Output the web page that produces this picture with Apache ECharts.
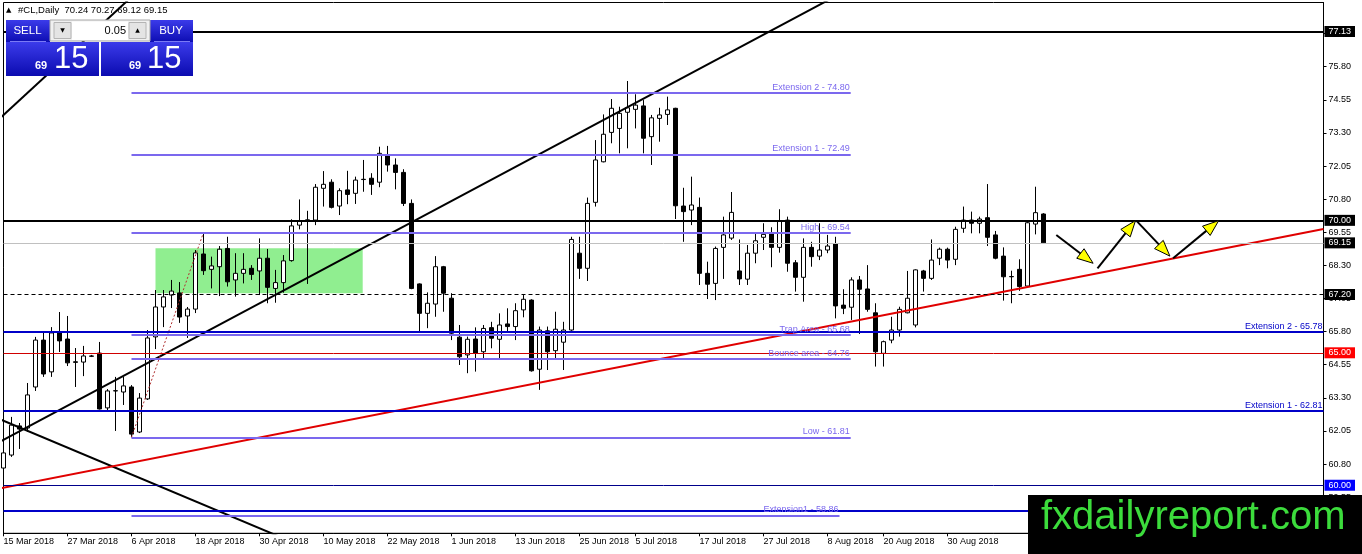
<!DOCTYPE html>
<html><head><meta charset="utf-8">
<script src="https://cdn.jsdelivr.net/npm/echarts@6/dist/echarts.min.js"></script>
<style>html,body{margin:0;padding:0;background:#fff}#c{width:1362px;height:554px}</style>
</head><body><div id="c"></div>
<script>
// ---- candle data (daily bars from 15 Mar 2018) ----
const opens = [60.65,61.14,62.24,62.16,63.71,65.48,64.28,65.75,65.52,64.66,64.65,64.88,64.99,62.92,63.56,63.52,63.71,62.01,63.26,65.60,66.73,67.18,67.26,66.39,66.65,68.73,68.15,68.25,68.94,67.75,68.00,68.19,68.09,68.57,67.43,67.65,68.48,69.82,70.00,70.01,71.21,71.44,70.54,71.15,71.02,71.55,71.59,71.44,72.47,72.09,71.81,70.64,67.60,66.49,66.84,68.25,67.06,65.59,64.92,65.52,65.04,65.95,65.51,66.09,65.99,66.62,66.99,64.38,65.83,65.08,65.40,65.86,68.76,68.19,70.68,72.21,73.32,73.47,74.08,74.19,74.32,73.16,73.85,74.00,74.23,70.54,70.39,70.49,68.00,67.62,68.98,69.33,68.09,67.78,68.76,69.36,69.49,68.98,70.01,68.40,67.85,68.98,68.65,68.88,69.11,66.80,66.72,67.75,67.41,66.51,64.98,65.48,65.86,66.51,66.05,68.09,67.81,68.57,68.91,68.53,69.70,70.01,69.89,70.10,69.45,68.65,67.88,68.15,67.52,69.86,70.24];
const highs = [61.44,62.58,62.35,63.86,65.60,65.75,65.97,66.54,66.39,65.18,65.26,64.92,65.41,63.63,64.09,64.09,63.78,63.48,65.86,67.37,67.37,67.75,67.67,66.73,68.88,69.54,68.63,69.03,69.38,68.76,68.76,68.31,69.32,68.92,68.13,68.69,70.04,70.79,70.36,71.37,71.86,71.55,71.21,71.87,71.65,72.28,71.78,72.78,72.81,72.34,71.93,70.79,67.62,67.28,68.65,68.28,67.25,66.05,65.61,65.96,66.05,66.17,66.49,66.68,66.87,67.18,67.02,65.99,65.99,66.55,66.17,69.38,69.38,70.86,73.03,74.00,74.58,74.29,75.26,74.76,74.54,73.98,74.25,74.67,74.25,71.23,71.65,70.86,68.44,69.01,70.14,71.07,69.28,69.07,69.53,69.89,69.74,70.42,70.14,68.50,69.32,69.19,69.89,69.45,69.38,67.40,67.85,67.90,68.31,66.87,65.46,66.36,66.74,68.09,68.15,68.13,69.28,68.97,68.97,69.76,70.52,70.33,70.14,71.37,69.60,68.98,68.10,68.53,70.01,71.27,70.27];
const lows = [60.42,61.07,61.37,62.01,63.56,64.09,64.09,65.03,64.50,63.71,64.12,64.84,62.86,62.84,62.05,63.03,61.81,61.97,63.22,65.14,65.97,66.69,66.13,65.56,66.50,67.94,67.43,67.14,67.50,67.12,67.62,67.75,67.18,66.87,66.89,67.27,68.44,69.66,67.60,69.82,70.52,70.45,70.20,70.61,70.62,71.08,70.96,71.25,71.84,71.17,70.54,67.40,65.80,65.93,66.36,66.55,65.48,64.54,64.23,64.29,64.79,65.17,64.79,65.80,65.48,66.34,64.29,63.60,64.35,64.73,64.35,65.83,67.79,67.71,70.52,72.19,72.91,72.53,72.72,73.47,72.53,72.09,72.97,73.60,70.05,69.19,69.82,67.56,67.03,66.99,67.79,69.26,67.56,67.56,68.38,68.88,68.23,68.78,68.06,67.31,66.93,68.25,68.50,68.76,66.30,66.46,66.24,65.71,66.55,64.48,64.48,65.36,65.61,66.49,65.96,67.31,67.75,68.31,68.19,68.31,69.53,69.51,69.51,69.03,68.53,66.97,66.87,67.34,67.50,69.47,69.12];
const closes = [61.22,62.27,62.12,63.41,65.48,64.20,65.75,65.45,64.62,64.64,64.88,64.87,62.88,63.56,63.57,63.75,61.93,63.29,65.56,66.73,67.11,67.33,66.35,66.65,68.77,68.10,68.28,68.91,67.68,68.00,68.15,67.96,68.57,67.47,67.65,68.47,69.79,69.99,70.02,71.25,71.36,70.49,71.12,70.98,71.52,71.54,71.36,72.53,72.09,71.81,70.64,67.43,66.49,66.87,68.25,67.25,65.74,64.85,65.51,64.98,65.92,65.55,66.05,65.99,66.59,67.02,64.32,65.86,65.04,65.89,65.86,69.28,68.19,70.64,72.28,73.25,74.23,74.04,74.25,74.35,73.10,73.87,73.98,74.17,70.55,70.33,70.58,68.00,67.59,68.94,69.45,70.30,67.79,68.76,69.23,69.47,68.98,69.99,68.38,67.85,68.98,68.63,68.88,69.03,66.77,66.68,67.75,67.40,66.64,65.04,65.42,65.86,66.64,67.06,68.13,67.81,68.50,68.91,68.50,69.66,70.01,69.89,70.05,69.36,68.57,67.87,67.87,67.50,69.91,70.29,69.15];
const emptySlots = 35;

// ---- axis labels ----
const dateTickIndex = [0,8,16,24,32,40,48,56,64,72,79,87,95,103,110,118];
const dateTickText = ['15 Mar 2018','27 Mar 2018','6 Apr 2018','18 Apr 2018','30 Apr 2018','10 May 2018','22 May 2018','1 Jun 2018','13 Jun 2018','25 Jun 2018','5 Jul 2018','17 Jul 2018','27 Jul 2018','8 Aug 2018','20 Aug 2018','30 Aug 2018'];
const priceTicks = [58.30,59.55,60.80,62.05,63.30,64.55,65.80,67.05,68.30,69.55,70.80,72.05,73.30,74.55,75.80,77.05];
const priceMin = 58.186, priceMax = 78.224;

// ---- horizontal levels (full width, boxed price on axis) ----
const boxLevels = [77.13, 70.00, 69.15, 67.20, 65.00, 60.00];
const boxBg = ['#000', '#000', '#000', '#000', '#ff0000', '#0000ff'];
const boxLineColor = ['#000', '#000', '#c0c0c0', '#000', '#d00000', '#00008b'];
const boxLineWidth = [2, 2, 1, 1, 1, 1];
const boxLineType = ['solid', 'solid', 'solid', [4,3], 'solid', 'solid'];
// ---- full width blue extension lines ----
const extValues = [65.78, 62.81, 59.04];
const extTexts = ['Extension 2 - 65.78', 'Extension 1 - 62.81', ''];
// ---- fibonacci segment levels ----
const fibValues = [74.80, 72.49, 69.54, 65.68, 64.76, 61.81, 58.86];
const fibTexts = ['Extension 2 - 74.80','Extension 1 - 72.49','High - 69.54','Trap Area - 65.68','Bounce area - 64.76','Low - 61.81','Extension1 - 58.86'];
const fibStart = 16;
const fibEnd = [105.9,105.9,105.9,105.9,105.9,105.9,104.5];

// ---- trend lines (bar index, price) ----
const supportUp = [[-1, 61.55], [105, 78.62]];
const steepUp = [[-1, 73.70], [18, 78.99]];
const fallingLine = [[-1, 62.56], [36, 57.87]];
const redTrend = [[-1, 59.85], [165, 69.67]];
const fibSwing = [[16, 61.81], [25, 69.54]];
const greenZone = [[19, 68.945], [44.9, 67.246]];
const arrows = [[131.6,69.45,136.2,68.38],[136.75,68.19,141.5,69.99],[141.6,69.99,145.8,68.65],[146.2,68.57,151.9,69.99]];

const nCat = opens.length + emptySlots;
const cats = Array.from({length: nCat}, (_, i) => String(i));
const candleData = opens.map((o, i) => [o, closes[i], lows[i], highs[i]]);

const FONT = 'Liberation Sans';

const boxLines = boxLevels.map((v, i) => ({
  yAxis: v,
  lineStyle: {color: boxLineColor[i], width: boxLineWidth[i], type: boxLineType[i]},
  label: {show:true, position:'end', distance:1, formatter: v.toFixed(2), color:'#fff', backgroundColor:boxBg[i], padding:[1,4,0,4], fontSize:9, lineHeight:10, fontFamily:FONT}
}));
const extLines = extValues.map((v, i) => ({yAxis: v, lineStyle:{color:'#0000c8', width:2, type:'solid'},
  label:{show: !!extTexts[i], position:'insideEndTop', distance:1, formatter: extTexts[i], color:'#0000c8', fontSize:9, fontFamily:FONT}}));
const fibLines = fibValues.map((v, i) => [
  {coord:[fibStart, v], lineStyle:{color:'#7b68ee', width:2, type:'solid'},
   label:{show:true, position:'insideEndTop', distance:1, formatter: fibTexts[i], color:'#7b68ee', fontSize:9, fontFamily:FONT}},
  {coord:[fibEnd[i], v]}
]);

function trend(data, color, width, type, z) {
  return {type:'line', xAxisIndex:1, yAxisIndex:0, data, symbol:'none', silent:true, z: z || 4,
    lineStyle:{color, width, type: type || 'solid'}, clip:true};
}

const blueGrad = {type:'linear', x:0, y:0, x2:0, y2:1, colorStops:[{offset:0, color:'#3b3bea'},{offset:1, color:'#0b0bb0'}]};
const G = [];
function rect(x, y, w, h, fill, stroke, z) { G.push({type:'rect', shape:{x, y, width:w, height:h}, style:{fill, stroke: stroke || null, lineWidth:1}, z: z || 100}); }
function txt(x, y, text, size, fill, opts) {
  G.push({type:'text', x, y, z:101, style:Object.assign({text, fontSize:size, fill, fontFamily:FONT, align:'left', verticalAlign:'middle', textAlign:'left', textVerticalAlign:'middle'}, opts || {})});
}
// header
G.push({type:'text', x:6, y:10, z:1, style:{text:'▲', fontSize:7, fill:'#000', fontFamily:'DejaVu Sans', verticalAlign:'middle', textVerticalAlign:'middle'}});
G.push({type:'text', x:18, y:10.5, z:1, style:{text:'#CL,Daily  70.24 70.27 69.12 69.15', fontSize:9.5, fill:'#000', fontFamily:FONT, verticalAlign:'middle', textVerticalAlign:'middle'}});
// trade panel
rect(6, 20, 44, 23, blueGrad);
rect(150, 20, 43, 23, blueGrad);
rect(6, 42, 93, 34, blueGrad);
rect(101, 42, 92, 34, blueGrad);
G.push({type:'line', shape:{x1:10, y1:41.5, x2:46, y2:41.5}, style:{stroke:'#7a7af5', lineWidth:1}, z:101});
G.push({type:'line', shape:{x1:154, y1:41.5, x2:190, y2:41.5}, style:{stroke:'#7a7af5', lineWidth:1}, z:101});
rect(50, 20, 100, 21, '#f0f0f0', '#a8a8a8');
rect(54, 22.5, 17, 16, '#e4e4e4', '#b4b4b4', 101);
rect(72, 21.5, 56, 18.5, '#ffffff', null, 101);
rect(129, 22.5, 17, 16, '#e4e4e4', '#b4b4b4', 101);
txt(62.5, 30.5, '▼', 6, '#000', {align:'center', textAlign:'center', fontFamily:'DejaVu Sans'});
txt(137.5, 30.5, '▲', 6, '#000', {align:'center', textAlign:'center', fontFamily:'DejaVu Sans'});
txt(126, 31, '0.05', 11, '#000', {align:'right', textAlign:'right'});
txt(27.5, 31, 'SELL', 11.5, '#fff', {align:'center', textAlign:'center'});
txt(171, 31, 'BUY', 11.5, '#fff', {align:'center', textAlign:'center'});
txt(35, 66, '69', 11, '#fff', {fontWeight:'bold'});
txt(54, 59, '15', 31, '#fff');
txt(129, 66, '69', 11, '#fff', {fontWeight:'bold'});
txt(147, 59, '15', 31, '#fff');
// watermark
rect(1028, 495, 334, 59, '#000', null, 110);
G.push({type:'text', x:1041, y:518, z:111, style:{text:'fxdailyreport.com', fontSize:40, fill:'#3cdc3c', fontFamily:FONT, verticalAlign:'middle', textVerticalAlign:'middle'}});

const option = {
  animation: false,
  backgroundColor: '#fff',
  textStyle: {fontFamily: FONT},
  grid: {left:3.5, right:38.5, top:2.5, bottom:20.7, show:true, borderColor:'#000', borderWidth:1, backgroundColor:'transparent'},
  xAxis: [
    {type:'category', data:cats, boundaryGap:false,
     axisLine:{show:true, onZero:false, lineStyle:{color:'#000', width:1}},
     axisTick:{show:true, length:3, interval:(i) => dateTickIndex.includes(i), lineStyle:{color:'#000'}},
     axisLabel:{show:true, interval:(i) => dateTickIndex.includes(i), formatter:(v) => { const j = dateTickIndex.indexOf(Number(v)); return j >= 0 ? dateTickText[j] : ''; },
       align:'left', fontSize:9, color:'#000', margin:4, fontFamily:FONT},
     splitLine:{show:false}},
    {type:'value', min:0, max:nCat - 1, show:false, axisLine:{onZero:false}, splitLine:{show:false}}
  ],
  yAxis: {type:'value', position:'right', min:priceMin, max:priceMax,
    axisLine:{show:true, onZero:false, lineStyle:{color:'#000', width:1}},
    axisTick:{show:true, length:3, lineStyle:{color:'#000'}, customValues: priceTicks},
    axisLabel:{show:true, customValues: priceTicks, formatter:(v) => Number(v).toFixed(2), fontSize:9, color:'#000', margin:5, fontFamily:FONT},
    splitLine:{show:false}},
  series: [
    {type:'line', xAxisIndex:1, data:[], z:1, silent:true,
     markArea:{silent:true, itemStyle:{color:'#90ee90', opacity:1}, data:[[{coord:greenZone[0]}, {coord:greenZone[1]}]]}},
    {type:'candlestick', xAxisIndex:0, yAxisIndex:0, data:candleData, barWidth:4, z:3, silent:true,
     itemStyle:{color:'#fff', color0:'#000', borderColor:'#000', borderColor0:'#000', borderColorDoji:'#000', borderWidth:1}},
    {type:'line', xAxisIndex:1, data:[], z:5, silent:true,
     markLine:{silent:true, symbol:'none', animation:false, data: boxLines.concat(extLines).concat(fibLines)}},
    trend(supportUp, '#000', 2),
    trend(steepUp, '#000', 2),
    trend(fallingLine, '#000', 2),
    trend(redTrend, '#e00000', 2),
    trend(fibSwing, '#b03030', 1, [2,2]),
    {type:'custom', xAxisIndex:1, yAxisIndex:0, data:arrows, z:6, silent:true, clip:false,
     encode:{x:[0,2], y:[1,3]},
     renderItem:(params, api) => {
       const p1 = api.coord([api.value(0), api.value(1)]);
       const p2 = api.coord([api.value(2), api.value(3)]);
       const dx = p2[0]-p1[0], dy = p2[1]-p1[1], L = Math.hypot(dx, dy);
       const ux = dx/L, uy = dy/L, hl = 16, hw = 6;
       const bx = p2[0]-ux*hl, by = p2[1]-uy*hl;
       return {type:'group', children:[
         {type:'line', shape:{x1:p1[0], y1:p1[1], x2:bx+ux*3, y2:by+uy*3}, style:{stroke:'#000', lineWidth:2}},
         {type:'polygon', shape:{points:[[p2[0],p2[1]],[bx-uy*hw, by+ux*hw],[bx+uy*hw, by-ux*hw]]}, style:{fill:'#ffff00', stroke:'#000', lineWidth:1}}
       ]};
     }}
  ],
  graphic: {elements: G}
};
const chart = echarts.init(document.getElementById('c'), null, {renderer:'canvas'});
chart.setOption(option);
</script></body></html>
